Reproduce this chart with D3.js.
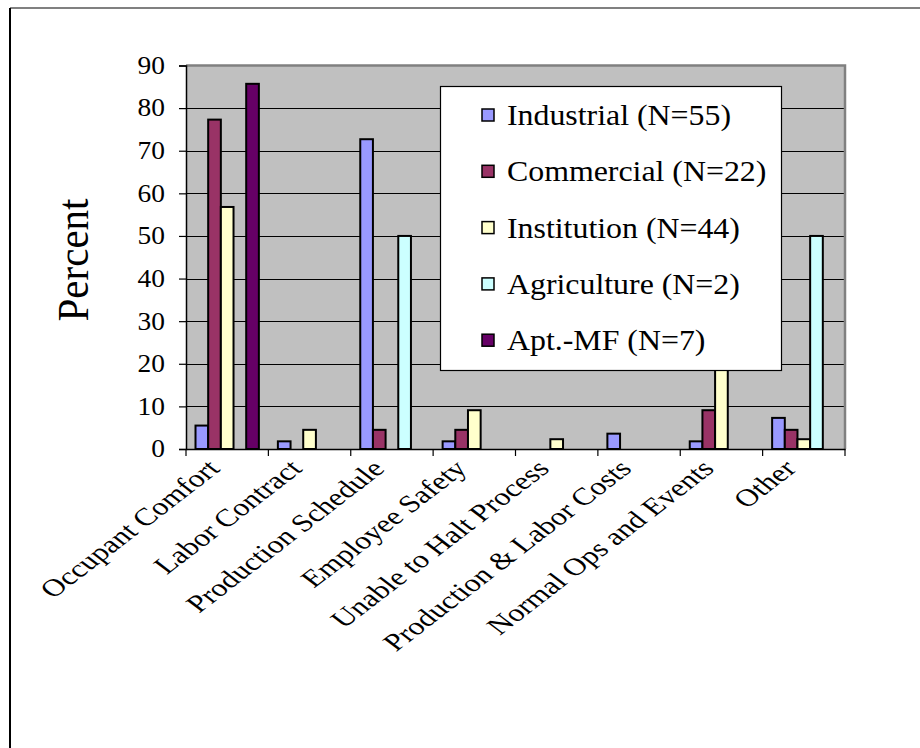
<!DOCTYPE html>
<html>
<head>
<meta charset="utf-8">
<script src="https://cdn.jsdelivr.net/npm/d3@7"></script>
<style>
  html, body { margin: 0; padding: 0; background: #fff; }
  svg { display: block; }
  text { font-family: "Liberation Serif", "Times New Roman", serif; fill: #000; }
</style>
</head>
<body>
<svg id="chart" width="920" height="748"></svg>
<script>
// Reasons cited for not curtailing load, by building sector (percent of respondents)
const categories = [
  "Occupant Comfort", "Labor Contract", "Production Schedule", "Employee Safety",
  "Unable to Halt Process", "Production & Labor Costs", "Normal Ops and Events", "Other"
];
const seriesNames = [
  "Industrial (N=55)", "Commercial (N=22)", "Institution (N=44)",
  "Agriculture (N=2)", "Apt.-MF (N=7)"
];
const seriesColors = ["#9999FF", "#993366", "#FFFFCC", "#CCFFFF", "#660066"];

const industrial  = [5.5, 1.8, 72.7, 1.8, 0, 3.6, 1.8, 7.3];
const commercial  = [77.3, 0, 4.5, 4.5, 0, 0, 9.1, 4.5];
const institution = [56.8, 4.5, 0, 9.1, 2.3, 0, 20.5, 2.3];
const agriculture = [0, 0, 50, 0, 0, 0, 0, 50];
const aptMF       = [85.7, 0, 0, 0, 0, 0, 0, 0];
const seriesValues = [industrial, commercial, institution, agriculture, aptMF];

const yTicks = [0, 10, 20, 30, 40, 50, 60, 70, 80, 90];

const svg = d3.select("#chart");

// outer chart frame
svg.append("line").attr("x1", 10).attr("y1", 8).attr("x2", 920).attr("y2", 8)
  .attr("stroke", "#808080").attr("stroke-width", 2);
svg.append("line").attr("x1", 10).attr("y1", 8).attr("x2", 10).attr("y2", 748)
  .attr("stroke", "#000").attr("stroke-width", 2);

const plot = { left: 186, right: 845, top: 65.5, bottom: 449 };

const x0 = d3.scaleBand().domain(categories).range([plot.left, plot.right]).paddingInner(0).paddingOuter(0);
const y = d3.scaleLinear().domain([0, 90]).range([plot.bottom, plot.top]);

// plot area background
svg.append("rect")
  .attr("x", plot.left).attr("y", plot.top)
  .attr("width", plot.right - plot.left).attr("height", plot.bottom - plot.top)
  .attr("fill", "#C0C0C0");

// horizontal gridlines
svg.append("g").selectAll("line").data(yTicks.filter(d => d > 0 && d < 90)).join("line")
  .attr("x1", plot.left).attr("x2", plot.right)
  .attr("y1", d => Math.round(y(d)) + 0.5).attr("y2", d => Math.round(y(d)) + 0.5)
  .attr("stroke", "#000").attr("stroke-width", 1.2);

// plot border (top and right edges)
svg.append("path")
  .attr("d", `M${plot.left},${plot.top} H${plot.right} V${plot.bottom}`)
  .attr("fill", "none").attr("stroke", "#808080").attr("stroke-width", 2.5);

// bars: 5 bars per cluster with a 150% gap between clusters
const barW = x0.bandwidth() / 6.5;
const barOffset = 0.75 * barW;
const groups = svg.append("g").selectAll("g").data(categories).join("g")
  .attr("transform", d => `translate(${x0(d)},0)`);
groups.selectAll("rect")
  .data((c, ci) => seriesValues.map((vals, si) => ({ si, v: vals[ci] })).filter(d => d.v > 0))
  .join("rect")
  .attr("x", d => barOffset + d.si * barW)
  .attr("y", d => y(d.v))
  .attr("width", barW)
  .attr("height", d => y(0) - y(d.v))
  .attr("fill", d => seriesColors[d.si])
  .attr("stroke", "#000").attr("stroke-width", 2);

// y axis
const yAxis = d3.axisLeft(y).tickValues(yTicks).tickSize(7).tickFormat("");
const yg = svg.append("g").attr("transform", `translate(${plot.left},0)`).call(yAxis);
yg.select(".domain").attr("stroke", "#000").attr("stroke-width", 1.5);
yg.selectAll(".tick line").attr("stroke", "#000").attr("stroke-width", 1.2);
svg.append("g").selectAll("text").data(yTicks).join("text")
  .attr("transform", d => `translate(165,${y(d)}) scale(1.12,1)`)
  .attr("text-anchor", "end")
  .attr("dy", "0.34em")
  .attr("font-size", 24.5)
  .text(d => d);

// x axis
const xg = svg.append("g").attr("transform", `translate(0,${plot.bottom})`)
  .call(d3.axisBottom(x0).tickSize(0).tickFormat(""));
xg.select(".domain").attr("stroke", "#000").attr("stroke-width", 1.5);
xg.selectAll(".tick").remove();
// tick marks at category boundaries
svg.append("g").selectAll("line")
  .data(categories.map(c => x0(c)).concat([plot.right])).join("line")
  .attr("x1", d => d).attr("x2", d => d)
  .attr("y1", plot.bottom).attr("y2", plot.bottom + 7)
  .attr("stroke", "#000").attr("stroke-width", 1.2);

// rotated category labels
svg.append("g").selectAll("text").data(categories).join("text")
  .attr("transform", d => `translate(${x0(d) + x0.bandwidth() / 2 - 6},${plot.bottom + 21}) scale(1.3,1) rotate(-45)`)
  .attr("text-anchor", "end")
  .attr("font-size", 24.5)
  .text(d => d);

// y axis title
svg.append("text")
  .attr("transform", `translate(88,260) scale(1.1,1) rotate(-90)`)
  .attr("text-anchor", "middle")
  .attr("font-size", 41)
  .text("Percent");

// legend
const legend = { x: 440, y: 86, w: 341, h: 284 };
svg.append("rect")
  .attr("x", legend.x + 0.5).attr("y", legend.y + 0.5)
  .attr("width", legend.w).attr("height", legend.h)
  .attr("fill", "#fff").attr("stroke", "#000").attr("stroke-width", 1.2);
const li = svg.append("g").selectAll("g").data(seriesNames).join("g")
  .attr("transform", (d, i) => `translate(${legend.x},${legend.y + 29 + i * 56.3})`);
li.append("rect")
  .attr("x", 42).attr("y", -6).attr("width", 12).attr("height", 12)
  .attr("fill", (d, i) => seriesColors[i]).attr("stroke", "#000").attr("stroke-width", 1.5);
li.append("text")
  .attr("transform", "translate(67,10) scale(1.08,1)")
  .attr("font-size", 29.5)
  .text(d => d);
</script>
</body>
</html>
